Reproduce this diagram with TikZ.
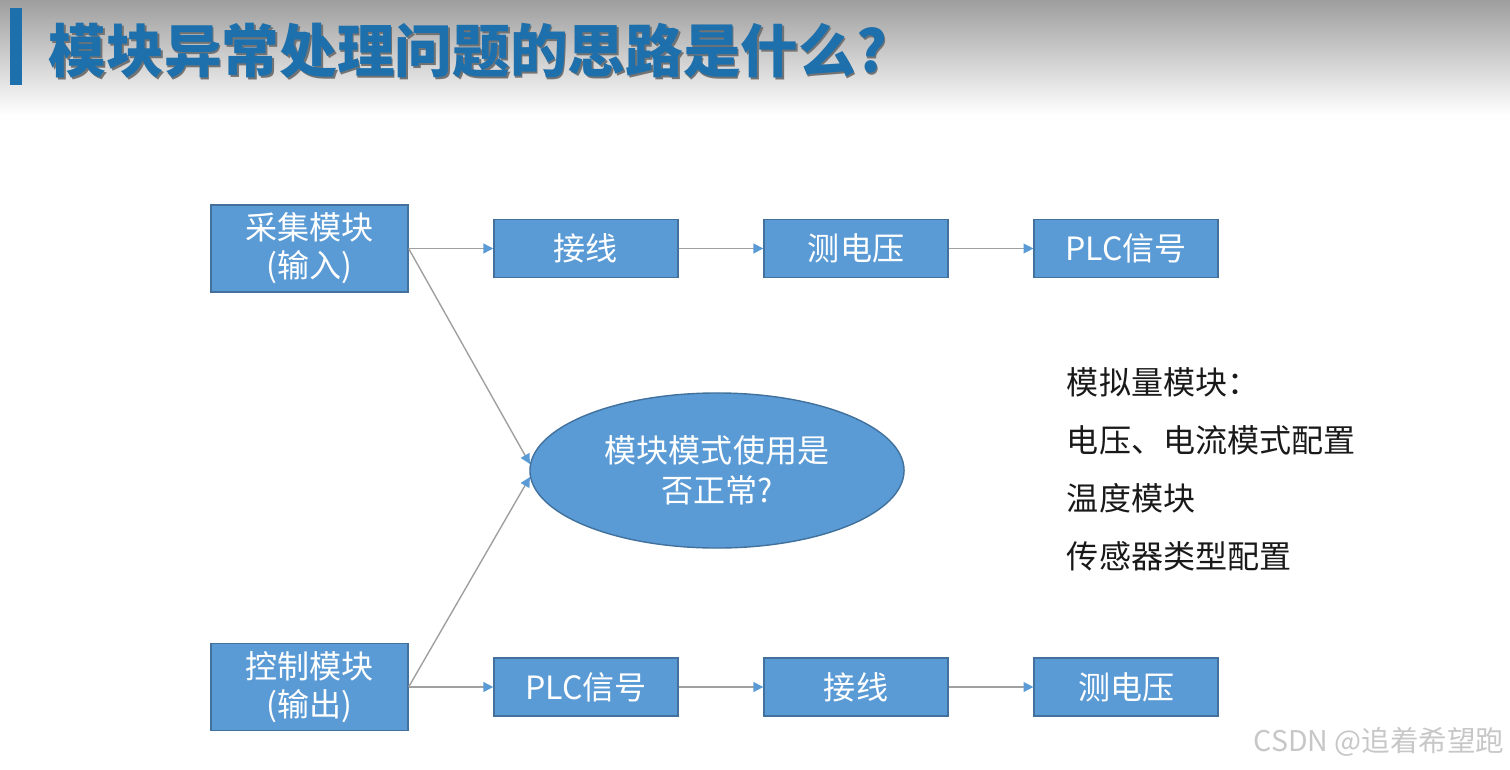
\documentclass[tikz,border=0pt]{standalone}
\usepackage{fontspec}
\setmainfont{Noto Sans CJK SC}
\usepackage{xcolor}
\usepackage{tikz}
\usetikzlibrary{shapes,shapes.geometric,positioning,arrows.meta}
\definecolor{boxblue}{RGB}{91,155,213}
\definecolor{boxedge}{RGB}{65,113,156}
\definecolor{titleblue}{RGB}{30,112,172}
\definecolor{linegray}{RGB}{160,160,160}
\definecolor{topgray}{RGB}{158,158,158}

\begin{document}
\begin{tikzpicture}[x=0.025cm,y=-0.025cm]
\tikzstyle{module}=[rectangle,draw=boxedge,fill=boxblue,line width=1pt,text=white,minimum width=4.92cm,minimum height=2.18cm,align=center,font=\fontsize{22.8}{27}\selectfont]
\tikzstyle{stepbox}=[rectangle,draw=boxedge,fill=boxblue,line width=1pt,text=white,minimum width=4.6cm,minimum height=1.45cm,font=\fontsize{22.8}{27}\selectfont]
\tikzstyle{flow}=[draw=linegray,line width=1pt,-{Triangle[length=7pt,width=7pt,color=boxblue]}]
\useasboundingbox (0,0) rectangle (1510,769);
% title bar
\shade[top color=topgray,bottom color=white] (0,0) rectangle (1510,115);
\fill[titleblue] (10,8) rectangle (22,85);
\node[anchor=west,text=black!55,font=\fontsize{41}{46}\selectfont\bfseries] (shadow) at (45.5,52.5) {模块异常处理问题的思路是什么?};
\node[anchor=west,text=titleblue,font=\fontsize{41}{46}\selectfont\bfseries] (title) at (44,51) {模块异常处理问题的思路是什么?};
% input row
\node[module] (caiji) at (309.5,248.5) {采集模块\\(输入)};
\node[stepbox,right of=caiji,xshift=5.91cm] (jx1) {接线};
\node[stepbox,right of=jx1,xshift=5.75cm] (dy1) {测电压};
\node[stepbox,right of=dy1,xshift=5.75cm] (plc1) {PLC信号};
% output row
\node[module] (kongzhi) at (309.5,687) {控制模块\\(输出)};
\node[stepbox,right of=kongzhi,xshift=5.91cm] (plc2) {PLC信号};
\node[stepbox,right of=plc2,xshift=5.75cm] (jx2) {接线};
\node[stepbox,right of=jx2,xshift=5.75cm] (dy2) {测电压};
% check node
\node[ellipse,draw=boxedge,fill=boxblue,line width=1pt,text=white,inner sep=0pt,minimum width=9.35cm,minimum height=3.875cm,align=center,font=\fontsize{22.8}{28.5}\selectfont] (mode) at (717,470.5) {模块模式使用是\\否正常?};
% arrows
\draw[flow] (caiji.east) -- (jx1.west);
\draw[flow] (jx1.east) -- (dy1.west);
\draw[flow] (dy1.east) -- (plc1.west);
\draw[flow] (kongzhi.east) -- (plc2.west);
\draw[flow] (plc2.east) -- (jx2.west);
\draw[flow] (jx2.east) -- (dy2.west);
\draw[flow] (caiji.east) -- (mode.178);
\draw[flow] (kongzhi.east) -- (mode.182);
% notes
\node[anchor=north west,align=left,text=black!90,font=\fontsize{22.8}{41.2}\selectfont] (notes) at (1062,363) {模拟量模块：\\电压、电流模式配置\\温度模块\\传感器类型配置};
\node[text=black!22,font=\fontsize{20.3}{24}\selectfont] (mark) at (1379,742) {CSDN @追着希望跑};
\end{tikzpicture}
\end{document}
